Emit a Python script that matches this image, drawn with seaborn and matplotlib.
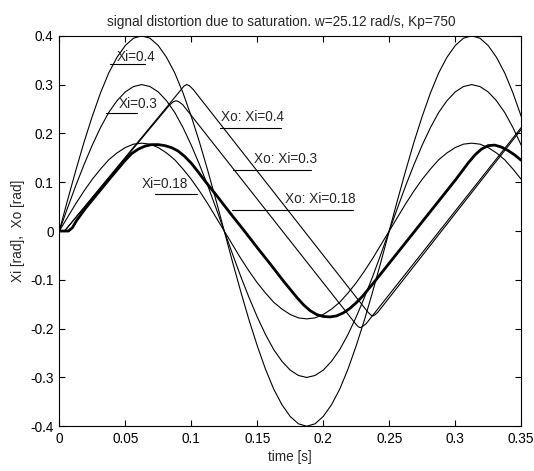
import pandas as pd
import matplotlib
matplotlib.use('Agg')
import matplotlib.pyplot as plt
import numpy as np
import seaborn as sns

# input sines, sampled every 0.00625 s
t_in = [0, 0.00625, 0.0125, 0.01875, 0.025, 0.03125, 0.0375, 0.04375, 0.05, 0.05625,
        0.0625, 0.06875, 0.075, 0.08125, 0.0875, 0.09375, 0.1, 0.10625, 0.1125, 0.11875,
        0.125, 0.13125, 0.1375, 0.14375, 0.15, 0.15625, 0.1625, 0.16875, 0.175, 0.18125,
        0.1875, 0.19375, 0.2, 0.20625, 0.2125, 0.21875, 0.225, 0.23125, 0.2375, 0.24375,
        0.25, 0.25625, 0.2625, 0.26875, 0.275, 0.28125, 0.2875, 0.29375, 0.3, 0.30625,
        0.3125, 0.31875, 0.325, 0.33125, 0.3375, 0.34375, 0.35]
xi_04 = [0, .063, .124, .182, .235, .283, .324, .356, .380, .395, .400,
         .395, .380, .356, .324, .283, .235, .182, .124, .063, 0,
         -.063, -.124, -.182, -.235, -.283, -.324, -.356, -.380, -.395, -.400,
         -.395, -.380, -.356, -.324, -.283, -.235, -.182, -.124, -.063, 0,
         .063, .124, .182, .235, .283, .324, .356, .380, .395, .400,
         .395, .380, .356, .324, .283, .235]
xi_03 = [0, .047, .093, .136, .176, .212, .243, .267, .285, .296, .300,
         .296, .285, .267, .243, .212, .176, .136, .093, .047, 0,
         -.047, -.093, -.136, -.176, -.212, -.243, -.267, -.285, -.296, -.300,
         -.296, -.285, -.267, -.243, -.212, -.176, -.136, -.093, -.047, 0,
         .047, .093, .136, .176, .212, .243, .267, .285, .296, .300,
         .296, .285, .267, .243, .212, .176]
xi_018 = [0, .028, .056, .082, .106, .127, .146, .160, .171, .178, .180,
          .178, .171, .160, .146, .127, .106, .082, .056, .028, 0,
          -.028, -.056, -.082, -.106, -.127, -.146, -.160, -.171, -.178, -.180,
          -.178, -.171, -.160, -.146, -.127, -.106, -.082, -.056, -.028, 0,
          .028, .056, .082, .106, .127, .146, .160, .171, .178, .180,
          .178, .171, .160, .146, .127, .106]

# saturated outputs
t_xo04 = [0, 0.004, 0.0915, 0.0945, 0.0965, 0.0985, 0.1015, 0.2335, 0.236, 0.2375, 0.239, 0.2415, 0.35]
xo_04 = [0, 0, 0.287, 0.297, 0.300, 0.298, 0.290, -0.165, -0.172, -0.174, -0.172, -0.166, 0.208]
t_xo03 = [0, 0.004, 0.0835, 0.0865, 0.0885, 0.0905, 0.0935, 0.2245, 0.2265, 0.228, 0.2295, 0.2325, 0.35]
xo_03 = [0, 0, 0.258, 0.265, 0.267, 0.265, 0.259, -0.190, -0.196, -0.198, -0.196, -0.190, 0.212]
t_xo018 = [0, 0.007, 0.010, 0.013, 0.02, 0.03, 0.04, 0.05,
           0.055, 0.06, 0.065, 0.07, 0.075, 0.08, 0.085, 0.09, 0.095, 0.1, 0.105, 0.11,
           0.12, 0.13, 0.14, 0.15, 0.16, 0.17, 0.18,
           0.185, 0.19, 0.195, 0.2, 0.205, 0.21, 0.215, 0.22, 0.225, 0.23,
           0.24, 0.25, 0.26, 0.27, 0.28, 0.29,
           0.295, 0.3, 0.305, 0.31, 0.315, 0.32, 0.325, 0.33, 0.335, 0.34, 0.345, 0.35]
xo_018 = [0, 0, 0.007, 0.021, 0.047, 0.080, 0.113, 0.145,
          0.159, 0.168, 0.174, 0.177, 0.177, 0.175, 0.171, 0.164, 0.153, 0.139, 0.122, 0.104,
          0.070, 0.035, 0.001, -0.034, -0.068, -0.103, -0.136,
          -0.151, -0.163, -0.171, -0.175, -0.176, -0.174, -0.168, -0.159, -0.147, -0.133,
          -0.100, -0.066, -0.032, 0.002, 0.036, 0.070,
          0.087, 0.104, 0.122, 0.140, 0.156, 0.168, 0.175, 0.176, 0.172, 0.165, 0.156, 0.145]

# labels: text, text anchor (t, y), underline (t0, t1, y)
labels = ['Xi=0.4', 'Xi=0.3', 'Xi=0.18', 'Xo: Xi=0.4', 'Xo: Xi=0.3', 'Xo: Xi=0.18']
label_t = [0.0435, 0.0447, 0.0624, 0.1225, 0.1475, 0.171]
label_y = [0.356, 0.260, 0.0957, 0.2326, 0.1475, 0.0656]
under_t0 = [0.0385, 0.0354, 0.0725, 0.1215, 0.1318, 0.1306]
under_t1 = [0.0650, 0.0592, 0.1040, 0.1680, 0.1910, 0.2227]
under_y = [0.342, 0.2424, 0.0752, 0.212, 0.125, 0.044]

x_ticks = [0, 0.05, 0.1, 0.15, 0.2, 0.25, 0.3, 0.35]
x_ticklabels = ['0', '0.05', '0.1', '0.15', '0.2', '0.25', '0.3', '0.35']
y_ticks = [-0.4, -0.3, -0.2, -0.1, 0, 0.1, 0.2, 0.3, 0.4]
y_ticklabels = ['-0.4', '-0.3', '-0.2', '-0.1', '0', '0.1', '0.2', '0.3', '0.4']

sns.set_style('white')
plt.rcParams['font.family'] = ['Liberation Sans', 'DejaVu Sans']
fs = 9.8

fig = plt.figure(figsize=(5.34, 4.71), dpi=100)
ax = fig.add_axes([0.111, 0.095, 0.865, 0.829])

thin = dict(color='black', linewidth=0.8, estimator=None, sort=False, ax=ax)
sns.lineplot(x=t_in, y=xi_04, **thin)
sns.lineplot(x=t_in, y=xi_03, **thin)
sns.lineplot(x=t_in, y=xi_018, **thin)
sns.lineplot(x=t_xo04, y=xo_04, **thin)
sns.lineplot(x=t_xo03, y=xo_03, **thin)
sns.lineplot(x=t_xo018, y=xo_018, color='black', linewidth=2.0, estimator=None, sort=False, ax=ax)

for i in range(len(labels)):
    ax.text(label_t[i], label_y[i], labels[i], fontsize=fs, ha='left', va='center')
    sns.lineplot(x=[under_t0[i], under_t1[i]], y=[under_y[i], under_y[i]], **thin)

ax.set_xlim(0, 0.35)
ax.set_ylim(-0.4, 0.4)
ax.set_xticks(x_ticks)
ax.set_xticklabels(x_ticklabels, fontsize=fs)
ax.set_yticks(y_ticks)
ax.set_yticklabels(y_ticklabels, fontsize=fs)
ax.tick_params(direction='in', length=4, width=0.8, top=True, right=True,
               bottom=True, left=True, pad=4, colors='black')
for s in ax.spines.values():
    s.set_color('black')
    s.set_linewidth(0.8)

ax.set_xlabel('time [s]', fontsize=fs, labelpad=3)
ax.set_ylabel('Xi [rad],  Xo [rad]', fontsize=fs, labelpad=4)
ax.set_title('signal distortion due to saturation. w=25.12 rad/s, Kp=750',
             fontsize=fs, x=0.481, pad=7)

fig.savefig('out.png', dpi=100)
